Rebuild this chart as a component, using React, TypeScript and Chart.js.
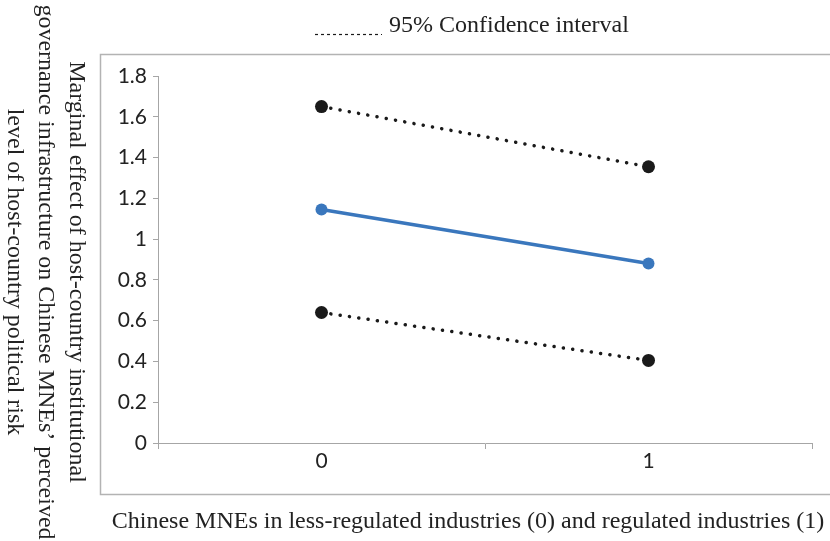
import React, { useEffect, useRef } from "react";
import { Chart, registerables } from "chart.js";

Chart.register(...registerables);

// ---- data ----
const categories = ["0", "1"];
const meanEffect = [1.145, 0.88];
const upperCI = [1.65, 1.355];
const lowerCI = [0.64, 0.405];
const yTickValues = [0, 0.2, 0.4, 0.6, 0.8, 1, 1.2, 1.4, 1.6, 1.8];
const legendLabel = "95% Confidence interval";
const xTitle =
  "Chinese MNEs in less-regulated industries (0) and regulated industries (1)";
const yTitleLines = [
  "Marginal effect of host-country institutional",
  "governance infrastructure on Chinese MNEs\u2019 perceived",
  "level of host-country political risk",
];

const SERIF = "'Liberation Serif', 'Times New Roman', serif";
const SANS = "Lato, 'Open Sans', sans-serif";
const AXIS_GRAY = "#a6a6a6";
const TEXT = "#222222";
const CI_COLOR = "#1a1a1a";
const MEAN_COLOR = "#3a77bd";

const decorPlugin = {
  id: "decor",
  beforeDraw(chart: any) {
    const ctx = chart.ctx as CanvasRenderingContext2D;
    ctx.save();
    ctx.strokeStyle = "#b3b3b3";
    ctx.lineWidth = 1.5;
    ctx.beginPath();
    ctx.moveTo(840, 54.5);
    ctx.lineTo(100.5, 54.5);
    ctx.lineTo(100.5, 494.5);
    ctx.lineTo(840, 494.5);
    ctx.stroke();
    ctx.restore();
  },
  afterDraw(chart: any) {
    const ctx = chart.ctx as CanvasRenderingContext2D;
    ctx.save();
    // legend
    ctx.strokeStyle = CI_COLOR;
    ctx.lineWidth = 1.2;
    ctx.setLineDash([3, 3]);
    ctx.beginPath();
    ctx.moveTo(315, 34.5);
    ctx.lineTo(382, 34.5);
    ctx.stroke();
    ctx.setLineDash([]);
    ctx.fillStyle = TEXT;
    ctx.font = `24px ${SERIF}`;
    ctx.textAlign = "left";
    ctx.textBaseline = "middle";
    ctx.fillText(legendLabel, 389, 26);

    // x title
    ctx.textAlign = "center";
    ctx.fillText(xTitle, 468, 522);

    // y title (rotated clockwise)
    const xs = [76, 45, 14];
    yTitleLines.forEach((line, i) => {
      ctx.save();
      ctx.translate(xs[i], 272);
      ctx.rotate(Math.PI / 2);
      ctx.textAlign = "center";
      ctx.textBaseline = "middle";
      ctx.fillText(line, 0, 0);
      ctx.restore();
    });
    ctx.restore();
  },
};

export default function App() {
  const canvasRef = useRef<HTMLCanvasElement | null>(null);

  useEffect(() => {
    document.body.style.margin = "0";
    const canvas = canvasRef.current;
    if (!canvas) return;
    const chart = new Chart(canvas, {
      type: "line",
      data: {
        labels: categories,
        datasets: [
          {
            label: "Upper 95% CI",
            data: upperCI,
            borderColor: CI_COLOR,
            backgroundColor: CI_COLOR,
            borderWidth: 3.5,
            borderDash: [0.1, 9.3],
            borderCapStyle: "round",
            pointRadius: 6.5,
            pointBorderWidth: 0,
            pointBackgroundColor: CI_COLOR,
          },
          {
            label: "Lower 95% CI",
            data: lowerCI,
            borderColor: CI_COLOR,
            backgroundColor: CI_COLOR,
            borderWidth: 3.5,
            borderDash: [0.1, 9.3],
            borderCapStyle: "round",
            pointRadius: 6.5,
            pointBorderWidth: 0,
            pointBackgroundColor: CI_COLOR,
          },
          {
            label: "Marginal effect",
            data: meanEffect,
            borderColor: MEAN_COLOR,
            backgroundColor: MEAN_COLOR,
            borderWidth: 3.5,
            pointRadius: 6,
            pointBorderWidth: 0,
            pointBackgroundColor: MEAN_COLOR,
          },
        ],
      },
      options: {
        responsive: false,
        animation: false,
        layout: { padding: { left: 0, top: 76, right: 18, bottom: 58 } },
        plugins: {
          legend: { display: false },
          tooltip: { enabled: false },
          title: { display: false },
        },
        scales: {
          x: {
            type: "category",
            offset: true,
            afterFit: (s: any) => {
              s.height = 40;
            },
            grid: {
              offset: true,
              drawOnChartArea: false,
              tickLength: 6,
              color: AXIS_GRAY,
            },
            border: { display: true, color: AXIS_GRAY, width: 1 },
            ticks: {
              color: TEXT,
              padding: 0,
              font: { family: SANS, size: 21 },
              maxRotation: 0,
            },
          },
          y: {
            min: 0,
            max: 1.8,
            afterFit: (s: any) => {
              s.width = 158;
            },
            afterBuildTicks: (s: any) => {
              s.ticks = yTickValues.map((v) => ({ value: v }));
            },
            grid: {
              drawOnChartArea: false,
              tickLength: 5,
              color: AXIS_GRAY,
            },
            border: { display: true, color: AXIS_GRAY, width: 1 },
            ticks: {
              color: TEXT,
              padding: 6,
              font: { family: SANS, size: 21 },
              callback: (v: any) => String(Number(Number(v).toFixed(1))),
            },
          },
        },
      },
      plugins: [decorPlugin],
    });
    return () => chart.destroy();
  }, []);

  return (
    <div style={{ position: "fixed", left: 0, top: 0, width: 830, height: 541, background: "#fff" }}>
      <canvas ref={canvasRef} width={830} height={541} style={{ display: "block" }} />
    </div>
  );
}
